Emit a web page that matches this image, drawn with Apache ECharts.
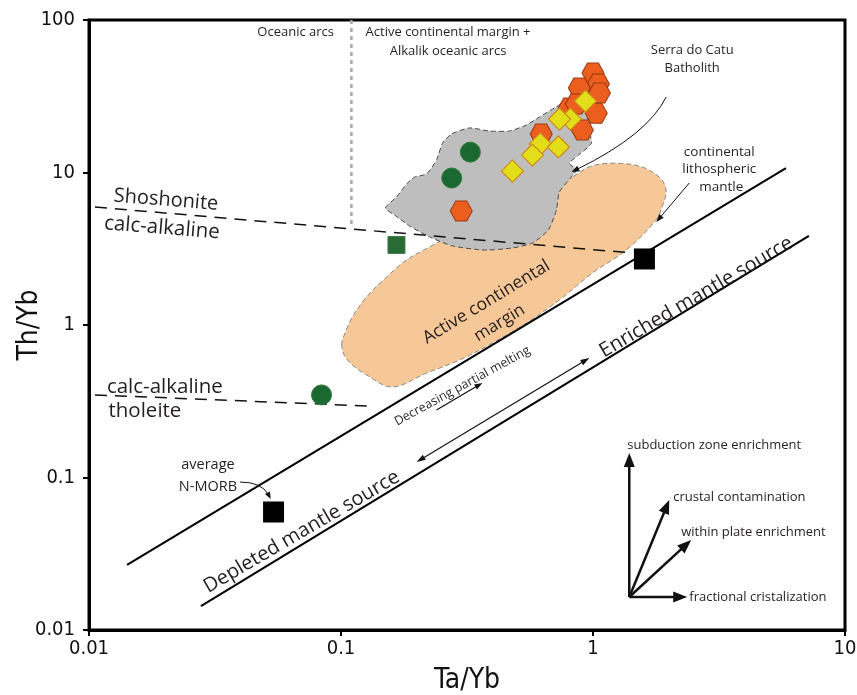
<!DOCTYPE html>
<html><head><meta charset="utf-8">
<script src="https://cdn.jsdelivr.net/npm/echarts@6/dist/echarts.min.js"></script>
<style>html,body{margin:0;padding:0;background:#fff}#c{width:857px;height:695px}</style>
</head><body><div id="c"></div>
<script>
// ---------- data (Ta/Yb, Th/Yb) ----------
const xTicks = [0.01, 0.1, 1, 10];
const yTicks = [0.01, 0.1, 1, 10, 100];

const hexagons = [[1.00,44.9],[1.05,38.0],[1.06,33.2],[0.883,35.8],[0.805,26.5],[0.859,28.1],[1.03,24.5],[0.907,19.0],[0.623,17.9],[0.30,5.6]];
const diamonds = [[0.933,29.4],[0.813,22.4],[0.736,22.4],[0.618,15.4],[0.729,14.7],[0.575,13.0],[0.479,10.2]];
const greenCircles = [[0.326,13.6],[0.275,9.2],[0.0837,0.348]];
const greenSquares = [[0.166,3.35]];
const blackSquares = [[1.60,2.71],[0.054,0.0594]];

const upperMantleLine = [[0.01416,0.0267],[5.83,10.7]];
const lowerMantleLine = [[0.0278,0.01436],[7.19,3.84]];
const shoshoniteLine = [[0.01056,5.94],[1.42,2.97]];
const tholeiteLine = [[0.01056,0.348],[0.130,0.294]];
const arcsDivider = [[0.110,100],[0.110,4.53]];

const batholithField = [[0.150,5.85],[0.166,6.91],[0.182,8.4],[0.196,9.34],[0.2185,9.78],[0.2395,12.1],[0.253,15.6],[0.2746,17.9],[0.3236,19.6],[0.388,18.7],[0.466,18.7],[0.5445,20.5],[0.613,23.1],[0.703,26.5],[0.843,31.3],[0.985,29.9],[0.950,21.4],[0.985,15.6],[0.876,13.0],[0.806,11.5],[0.859,10.4],[0.821,9.34],[0.7357,7.45],[0.7157,5.68],[0.665,4.20],[0.575,3.45],[0.479,3.20],[0.371,3.10],[0.277,3.30],[0.2245,3.78],[0.187,4.46],[0.165,5.19]];
const activeMarginField = [[0.1006,0.739],[0.105,0.927],[0.111,1.13],[0.1265,1.53],[0.152,2.07],[0.182,2.67],[0.2245,3.25],[0.3236,4.53],[0.511,6.6],[0.828,9.34],[0.967,10.9],[1.18,11.5],[1.53,11.0],[1.83,9.34],[1.95,7.67],[1.88,5.94],[1.78,4.89],[1.355,3.10],[0.994,2.19],[0.736,1.46],[0.5445,1.03],[0.399,0.762],[0.2953,0.589],[0.2185,0.484],[0.160,0.392],[0.1265,0.470],[0.106,0.589]];

const processOrigin = [1.393,0.01646];
const processTips = [[1.393,0.1449],[2.007,0.0712],[2.453,0.0389],[2.365,0.01646]];
const serraPointer = [[1.953,31.3],[1.642,17.6],[0.821,10.07]];
const clmPointer = [[2.41,8.53],[1.783,4.74]];
const morbPointer = [[0.0397,0.0934],[0.0485,0.0934],[0.0526,0.0723]];
const meltingArrow = [[0.1995,0.1265],[0.967,0.6075]];
const meltingSmallArrow = [[0.2393,0.2773],[0.3641,0.417]];

const noteTexts = ['Oceanic arcs','Active continental margin +','Alkalik oceanic arcs','Serra do Catu','Batholith','continental','lithospheric','mantle','Shoshonite','calc-alkaline','calc-alkaline','tholeite','average','N-MORB','Depleted mantle source','Enriched mantle source','Active continental','margin','Decreasing partial melting','subduction zone enrichment','crustal contamination','within plate enrichment','fractional cristalization'];
const noteAnchors = [[0.0661,83.4],[0.266,83.4],[0.266,62.6],[2.476,63.6],[2.476,48.4],[3.17,13.6],[3.17,10.55],[3.23,8.04],[0.0202,6.60],[0.01947,4.33],[0.0200,0.392],[0.01667,0.273],[0.02965,0.1208],[0.02965,0.0866],[0.0698,0.0440],[2.57,1.526],[0.3778,1.415],[0.4256,1.03],[0.303,0.398],[1.368,0.1633],[2.082,0.0745],[2.239,0.0440],[2.41,0.01646]];

// ---------- styles ----------
const FONT = "'Open Sans', 'Noto Sans', sans-serif";
const AXFONT = "'Liberation Sans Narrow', 'DejaVu Sans Condensed', Roboto, sans-serif";
const noteStyle = [
 {s:13},{s:13},{s:13},{s:13},{s:13},{s:13.5},{s:13.5},{s:13.5},
 {s:20,r:-0.08},{s:20.5,r:-0.08},{s:20.5},{s:20.5},{s:14.5},{s:14.5},
 {s:20,r:0.53},{s:20,r:0.53},{s:17.5,r:0.545},{s:17,r:0.545},{s:12.5,r:0.5},
 {s:13,a:'left'},{s:13,a:'left'},{s:13,a:'left'},{s:13,a:'left'}
];
const arrowSpecs = [
  {pts:[processOrigin, processTips[0]], w:2.5, L:14, W:5.5},
  {pts:[processOrigin, processTips[1]], w:2.5, L:14, W:5.5},
  {pts:[processOrigin, processTips[2]], w:2.5, L:14, W:5.5},
  {pts:[processOrigin, processTips[3]], w:2.5, L:14, W:5.5},
  {pts:serraPointer, w:1, L:8, W:3},
  {pts:clmPointer, w:1, L:8, W:3},
  {pts:morbPointer, w:1, L:7, W:2.8},
  {pts:meltingArrow, w:1.2, L:9, W:3, both:true},
  {pts:meltingSmallArrow, w:1.2, L:8, W:2.8}
];

function fmt(ticks){
  return function(v){
    const t = ticks.find(k => Math.abs(Math.log10(k) - Math.log10(v)) < 1e-6);
    return t === undefined ? '' : String(t);
  };
}
function polySeries(points, z, fill, stroke, dash, smooth){
  return {
    type:'custom', coordinateSystem:'cartesian2d', z, silent:true, animation:false,
    data:[points[0]],
    renderItem:(params, api) => ({
      type:'polygon',
      shape:{points: points.map(p => api.coord(p)), smooth},
      style:{fill, stroke, lineWidth:1, lineDash:dash}
    })
  };
}
function lineSeries(points, z, color, width, type){
  return {type:'line', data:points, symbol:'none', z, silent:true, animation:false,
    lineStyle:{color, width, type}};
}
function head(tip, from, L, W){
  const dx = tip[0]-from[0], dy = tip[1]-from[1];
  const len = Math.hypot(dx, dy) || 1, ux = dx/len, uy = dy/len;
  const bx = tip[0]-ux*L, by = tip[1]-uy*L;
  return {type:'polygon', shape:{points:[tip,[bx-uy*W, by+ux*W],[bx+uy*W, by-ux*W]]}, style:{fill:'#111'}};
}
function shorten(tip, from, d){
  const dx = tip[0]-from[0], dy = tip[1]-from[1];
  const len = Math.hypot(dx, dy) || 1;
  return [tip[0]-dx/len*d, tip[1]-dy/len*d];
}

const chart = echarts.init(document.getElementById('c'), null, {renderer:'canvas'});
chart.setOption({
  animation:false,
  backgroundColor:'#fff',
  grid:{left:89, right:12, top:20, bottom:65, show:true, borderColor:'#000', borderWidth:3, outerBoundsMode:'none', containLabel:false},
  xAxis:{type:'log', logBase:10, min:0.01, max:10,
    axisLine:{show:true, lineStyle:{color:'#000', width:3}},
    axisTick:{show:true, inside:false, length:6, lineStyle:{color:'#000', width:2}},
    minorTick:{show:false}, splitLine:{show:false}, minorSplitLine:{show:false},
    axisLabel:{formatter:fmt(xTicks), fontSize:20, color:'#111', fontFamily:AXFONT, margin:9},
    name:'Ta/Yb', nameLocation:'middle', nameGap:37, nameMoveOverlap:false,
    nameTextStyle:{fontSize:28, color:'#111', fontFamily:AXFONT}},
  yAxis:{type:'log', logBase:10, min:0.01, max:100,
    axisLine:{show:true, lineStyle:{color:'#000', width:3}},
    axisTick:{show:true, inside:false, length:6, lineStyle:{color:'#000', width:2}},
    minorTick:{show:false}, splitLine:{show:false}, minorSplitLine:{show:false},
    axisLabel:{formatter:fmt(yTicks), fontSize:20, color:'#111', fontFamily:AXFONT, margin:14},
    name:'Th/Yb', nameLocation:'middle', nameGap:45, nameMoveOverlap:false,
    nameTextStyle:{fontSize:28, color:'#111', fontFamily:AXFONT}},
  series:[
    polySeries(activeMarginField, 1, '#F6C898', '#8a8a8a', [5,3], 0.35),
    polySeries(batholithField, 2, '#BEBEBE', '#4a4a4a', [5,3], 0.2),
    lineSeries(arcsDivider, 3, '#A8A8A8', 2.5, [4,4]),
    lineSeries(shoshoniteLine, 3, '#111', 1.5, [12,8]),
    lineSeries(tholeiteLine, 3, '#111', 1.5, [12,8]),
    lineSeries(upperMantleLine, 3, '#000', 2),
    lineSeries(lowerMantleLine, 3, '#000', 2),
    {type:'custom', coordinateSystem:'cartesian2d', z:4, silent:true, animation:false,
      data: arrowSpecs.map(s => s.pts[0]),
      renderItem:(params, api) => {
        const s = arrowSpecs[params.dataIndex];
        const P = s.pts.map(p => api.coord(p));
        const children = [];
        if (P.length === 3) {
          const end = shorten(P[2], P[1], s.L*0.7);
          children.push({type:'bezierCurve', shape:{x1:P[0][0], y1:P[0][1], cpx1:P[1][0], cpy1:P[1][1], x2:end[0], y2:end[1]},
            style:{fill:'none', stroke:'#111', lineWidth:s.w}});
          children.push(head(P[2], P[1], s.L, s.W));
        } else {
          const end = shorten(P[1], P[0], s.L*0.7);
          const start = s.both ? shorten(P[0], P[1], s.L*0.7) : P[0];
          children.push({type:'line', shape:{x1:start[0], y1:start[1], x2:end[0], y2:end[1]},
            style:{stroke:'#111', lineWidth:s.w, lineCap:'butt'}});
          children.push(head(P[1], P[0], s.L, s.W));
          if (s.both) children.push(head(P[0], P[1], s.L, s.W));
        }
        return {type:'group', children};
      }},
    {type:'scatter', data:hexagons, z:5, animation:false,
      symbol:'path://M-1,0 L-0.5,-0.866 L0.5,-0.866 L1,0 L0.5,0.866 L-0.5,0.866 Z', symbolSize:[22,20],
      itemStyle:{color:'#EB5E1E', borderColor:'#9A3A12', borderWidth:1, opacity:1}},
    {type:'scatter', data:diamonds, z:6, animation:false, symbol:'diamond', symbolSize:[22,22],
      itemStyle:{color:'#E2DF1A', borderColor:'#D0891C', borderWidth:1.2, opacity:1}},
    {type:'scatter', data:greenCircles, z:6, animation:false, symbol:'circle', symbolSize:20,
      itemStyle:{color:'#1B6930', borderColor:'#2C7A3D', borderWidth:1, opacity:1}},
    {type:'scatter', data:greenSquares, z:6, animation:false, symbol:'rect', symbolSize:17,
      itemStyle:{color:'#2A6B35', borderColor:'#3A7D45', borderWidth:1, opacity:1}},
    {type:'scatter', data:blackSquares, z:6, animation:false, symbol:'rect', symbolSize:21,
      itemStyle:{color:'#000', opacity:1}},
    {type:'custom', coordinateSystem:'cartesian2d', z:7, silent:true, animation:false,
      data: noteAnchors,
      renderItem:(params, api) => {
        const i = params.dataIndex, st = noteStyle[i];
        const p = api.coord(noteAnchors[i]);
        return {type:'text', x:p[0], y:p[1], rotation:st.r || 0,
          style:{text:noteTexts[i], fontSize:st.s, fontFamily:FONT, fill:'#231F20',
            align:st.a || 'center', verticalAlign:'middle'}};
      }}
  ]
});
</script></body></html>
